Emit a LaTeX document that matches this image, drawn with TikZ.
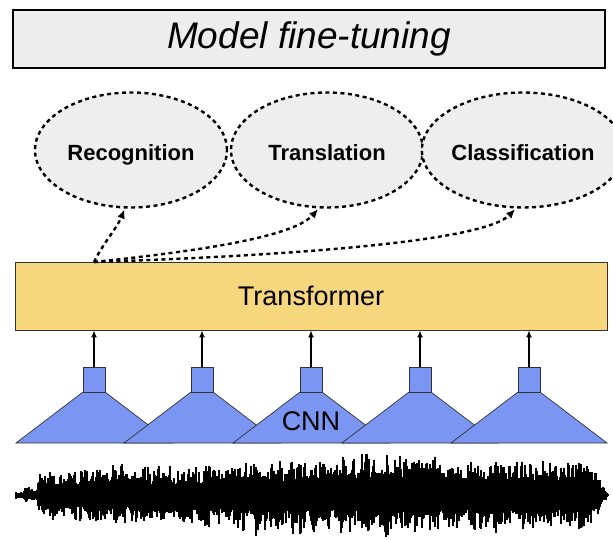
\documentclass[tikz,border=0pt]{standalone}
\usepackage{fontspec}
\setmainfont{Liberation Sans}
\usetikzlibrary{shapes.geometric,arrows.meta}
\definecolor{boxgray}{HTML}{EDEDED}
\definecolor{ellgray}{HTML}{EEEEEE}
\definecolor{tfyellow}{HTML}{F7D77D}
\definecolor{cnnblue}{HTML}{7B95F2}
\definecolor{edgedark}{HTML}{333333}

% one stretch of the audio waveform: x from #1 to #2, top/bottom amplitudes #3/#4
\newcommand\wavechunk[4]{%
  \foreach \x in {#1,...,#2}{%
    \pgfmathsetmacro\env{0.86+0.14*sin(23*\x)*cos(7*\x)}%
    \pgfmathsetmacro\ut{(#3)*\env*(0.45+0.55*rnd^1.6)}%
    \pgfmathsetmacro\ub{(#4)*\env*(0.45+0.55*rnd^1.6)}%
    \draw[wave] (\x,{495-\ut}) -- (\x,{495+\ub});
  }%
}

\begin{document}
\begin{tikzpicture}[x=1pt,y=-1pt,
  titlebox/.style={draw=black, line width=2pt, fill=boxgray, minimum width=592pt,
    minimum height=58pt, inner sep=0pt, font=\fontsize{37}{40}\selectfont\itshape},
  task/.style={ellipse, draw=black, line width=2.4pt, dash pattern=on 4pt off 3.5pt,
    fill=ellgray, minimum width=192pt, minimum height=115pt, inner sep=0pt,
    text height=24pt, text depth=2pt,
    font=\fontsize{22}{24}\selectfont\bfseries},
  trbox/.style={draw=edgedark, line width=0.8pt, fill=tfyellow, minimum width=592pt,
    minimum height=68pt, inner sep=0pt, font=\fontsize{27}{30}\selectfont},
  poolsq/.style={draw=edgedark, line width=0.7pt, fill=cnnblue, minimum width=22pt,
    minimum height=25pt, inner sep=0pt},
  conv/.style={draw=edgedark, line width=0.7pt, fill=cnnblue},
  taskarrow/.style={draw=black, line width=2.4pt, dash pattern=on 4pt off 3.5pt,
    -{Latex[length=9pt,width=8pt]}, shorten >=1pt},
  featarrow/.style={draw=black, line width=1.5pt, -{Latex[length=7pt,width=6pt]}},
  wave/.style={line width=1.3pt, black},
]
\useasboundingbox (0,0) rectangle (613,540);

% heading
\node[titlebox] (title) at (309,39) {Model fine-tuning};

% downstream tasks
\node[task] (rec) at (131,150) {Recognition};
\node[task] (tra) at (327,150) {Translation};
\node[task] (cla) at (523,150) {Classification};

% transformer block
\node[trbox] (tr) at (311,296) {Transformer};
\coordinate (src) at (94,262);

% dashed fine-tuning arrows
\draw[taskarrow] (src) .. controls (102,245) and (117,228) .. (rec.264);
\draw[taskarrow] (src) .. controls (190,252) and (292,238) .. (tra.262);
\draw[taskarrow] (src) .. controls (310,255) and (485,240) .. (cla.263);

% CNN feature encoders
\foreach \i/\cx in {1/94,2/202,3/311,4/420,5/529}{
  \draw[conv] (\cx-11,392) -- (\cx+11,392) -- (\cx+78,443) -- (\cx-78,443) -- cycle;
  \node[poolsq] (sq\i) at (\cx,379.5) {};
  \draw[featarrow] (sq\i.north) -- (sq\i.north |- tr.south);
}
\node[font=\fontsize{27}{30}\selectfont] (cnn) at (311,421) {CNN};

% raw audio waveform
\pgfmathsetseed{11}
\wavechunk{16}{24}{5}{5}
\wavechunk{25}{37}{9}{9}
\wavechunk{38}{76}{28}{29}
\wavechunk{77}{79}{14}{14}
\wavechunk{80}{233}{33}{34}
\wavechunk{234}{340}{39}{43}
\wavechunk{341}{441}{46}{44}
\wavechunk{442}{586}{39}{41}
\foreach \x in {587,...,609}{
  \pgfmathsetmacro\ut{39*(609-\x)/23*(0.45+0.55*rnd^1.6)}
  \pgfmathsetmacro\ub{41*(609-\x)/23*(0.45+0.55*rnd^1.6)}
  \draw[wave] (\x,{495-\ut}) -- (\x,{495+\ub});
}
\end{tikzpicture}
\end{document}
